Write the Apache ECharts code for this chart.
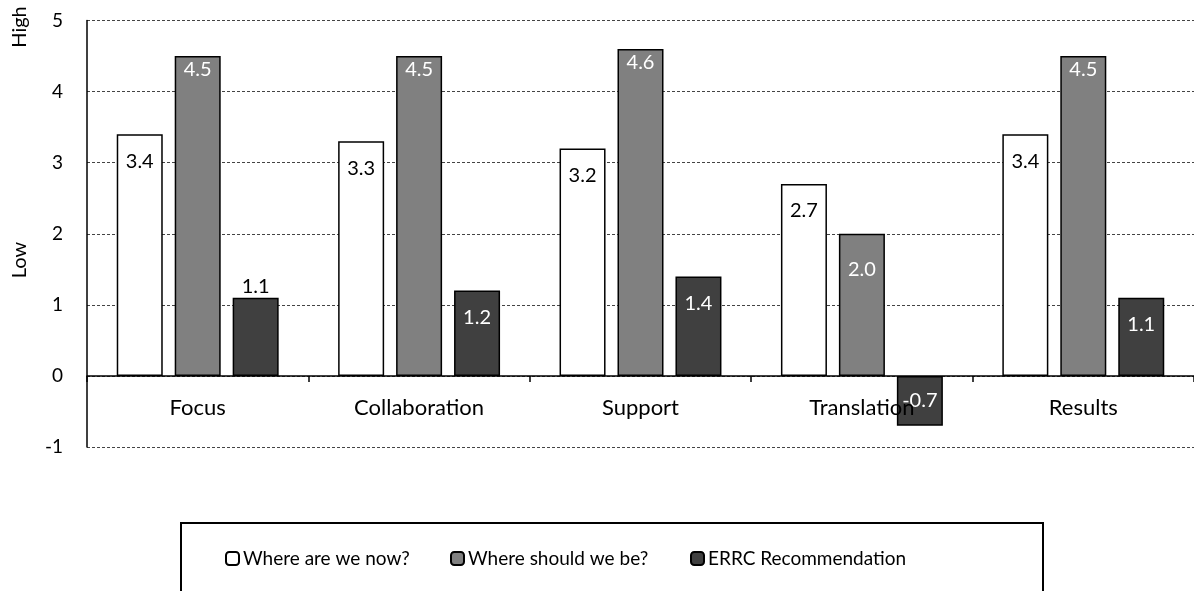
<!DOCTYPE html>
<html>
<head>
<meta charset="utf-8">
<script src="https://cdn.jsdelivr.net/npm/echarts@6/dist/echarts.min.js"></script>
<style>
html,body{margin:0;padding:0;background:#fff;}
#chart{width:1194px;height:591px;}
</style>
</head>
<body>
<div id="chart"></div>
<script>
const categories = ['Focus', 'Collaboration', 'Support', 'Translation', 'Results'];
const seriesNames = ['Where are we now?', 'Where should we be?', 'ERRC Recommendation'];
const nowValues = [3.4, 3.3, 3.2, 2.7, 3.4];
const shouldValues = [4.5, 4.5, 4.6, 2.0, 4.5];
const errcValues = [1.1, 1.2, 1.4, -0.7, 1.1];
const yTicks = [-1, 0, 1, 2, 3, 4, 5];

const FONT = 'Lato';
const LFS = 20;

const chart = echarts.init(document.getElementById('chart'), null, {renderer: 'canvas'});

function fmt(p) { return p.value.toFixed(1); }

const shouldData = shouldValues.map((v) => {
  if (v < 3) return {value: v, label: {distance: 26}};
  return v;
});

const errcData = errcValues.map((v, i) => {
  if (i === 0) {
    return {value: v, label: {position: 'top', color: '#000', distance: 1}};
  }
  if (v < 0) {
    return {value: v, label: {position: 'inside', color: '#fff'}};
  }
  return v;
});

const legendLefts = [225, 450, 690];
const legends = seriesNames.map((n, i) => ({
  data: [n],
  left: legendLefts[i],
  top: 549,
  padding: 0,
  itemWidth: 13,
  itemHeight: 13,
  textStyle: {color: '#000', fontSize: 19, fontFamily: FONT, padding: [0, 0, 0, -1]}
}));

const option = {
  animation: false,
  textStyle: {fontFamily: FONT},
  grid: {left: 87, right: 0, top: 20.5, bottom: 144, containLabel: false},
  xAxis: {
    type: 'category',
    data: categories,
    z: 3,
    axisLine: {onZero: true, lineStyle: {color: '#000', width: 1.5}},
    axisTick: {show: true, length: 6, inside: false, lineStyle: {color: '#000', width: 1.5}},
    axisLabel: {color: '#000', fontSize: 22, fontFamily: FONT, margin: -50}
  },
  yAxis: {
    type: 'value',
    min: yTicks[0],
    max: yTicks[yTicks.length - 1],
    interval: 1,
    axisLine: {show: true, lineStyle: {color: '#000', width: 1.5}},
    axisTick: {show: false},
    axisLabel: {color: '#000', fontSize: 19, fontFamily: FONT, margin: 24},
    splitLine: {show: true, lineStyle: {color: '#444', width: 1, type: [3, 2]}}
  },
  legend: legends,
  graphic: [
    {type: 'rect', shape: {x: 181, y: 523, width: 862, height: 120},
     style: {fill: 'none', stroke: '#000', lineWidth: 2}, silent: true},
    {type: 'text', x: 20, y: 27, rotation: Math.PI / 2, style: {text: 'High', fill: '#000', font: '20px ' + FONT, align: 'center', verticalAlign: 'middle'}},
    {type: 'text', x: 20, y: 260, rotation: Math.PI / 2, style: {text: 'Low', fill: '#000', font: '20px ' + FONT, align: 'center', verticalAlign: 'middle'}}
  ],
  series: [
    {
      name: seriesNames[0], type: 'bar', data: nowValues,
      barWidth: 46, barGap: '26%',
      itemStyle: {color: '#ffffff', borderColor: '#000', borderWidth: 1.5},
      label: {show: true, position: 'insideTop', distance: 17, color: '#000', fontSize: LFS, fontFamily: FONT, formatter: fmt}
    },
    {
      name: seriesNames[1], type: 'bar', data: shouldData,
      barWidth: 46, barGap: '26%',
      itemStyle: {color: '#808080', borderColor: '#000', borderWidth: 1.5},
      label: {show: true, position: 'insideTop', distance: 4, color: '#fff', fontSize: LFS, fontFamily: FONT, formatter: fmt}
    },
    {
      name: seriesNames[2], type: 'bar', data: errcData,
      barWidth: 46, barGap: '26%',
      itemStyle: {color: '#404040', borderColor: '#000', borderWidth: 1.5},
      label: {show: true, position: 'insideTop', distance: 17, color: '#fff', fontSize: LFS, fontFamily: FONT, formatter: fmt}
    }
  ]
};
chart.setOption(option);
</script>
</body>
</html>
